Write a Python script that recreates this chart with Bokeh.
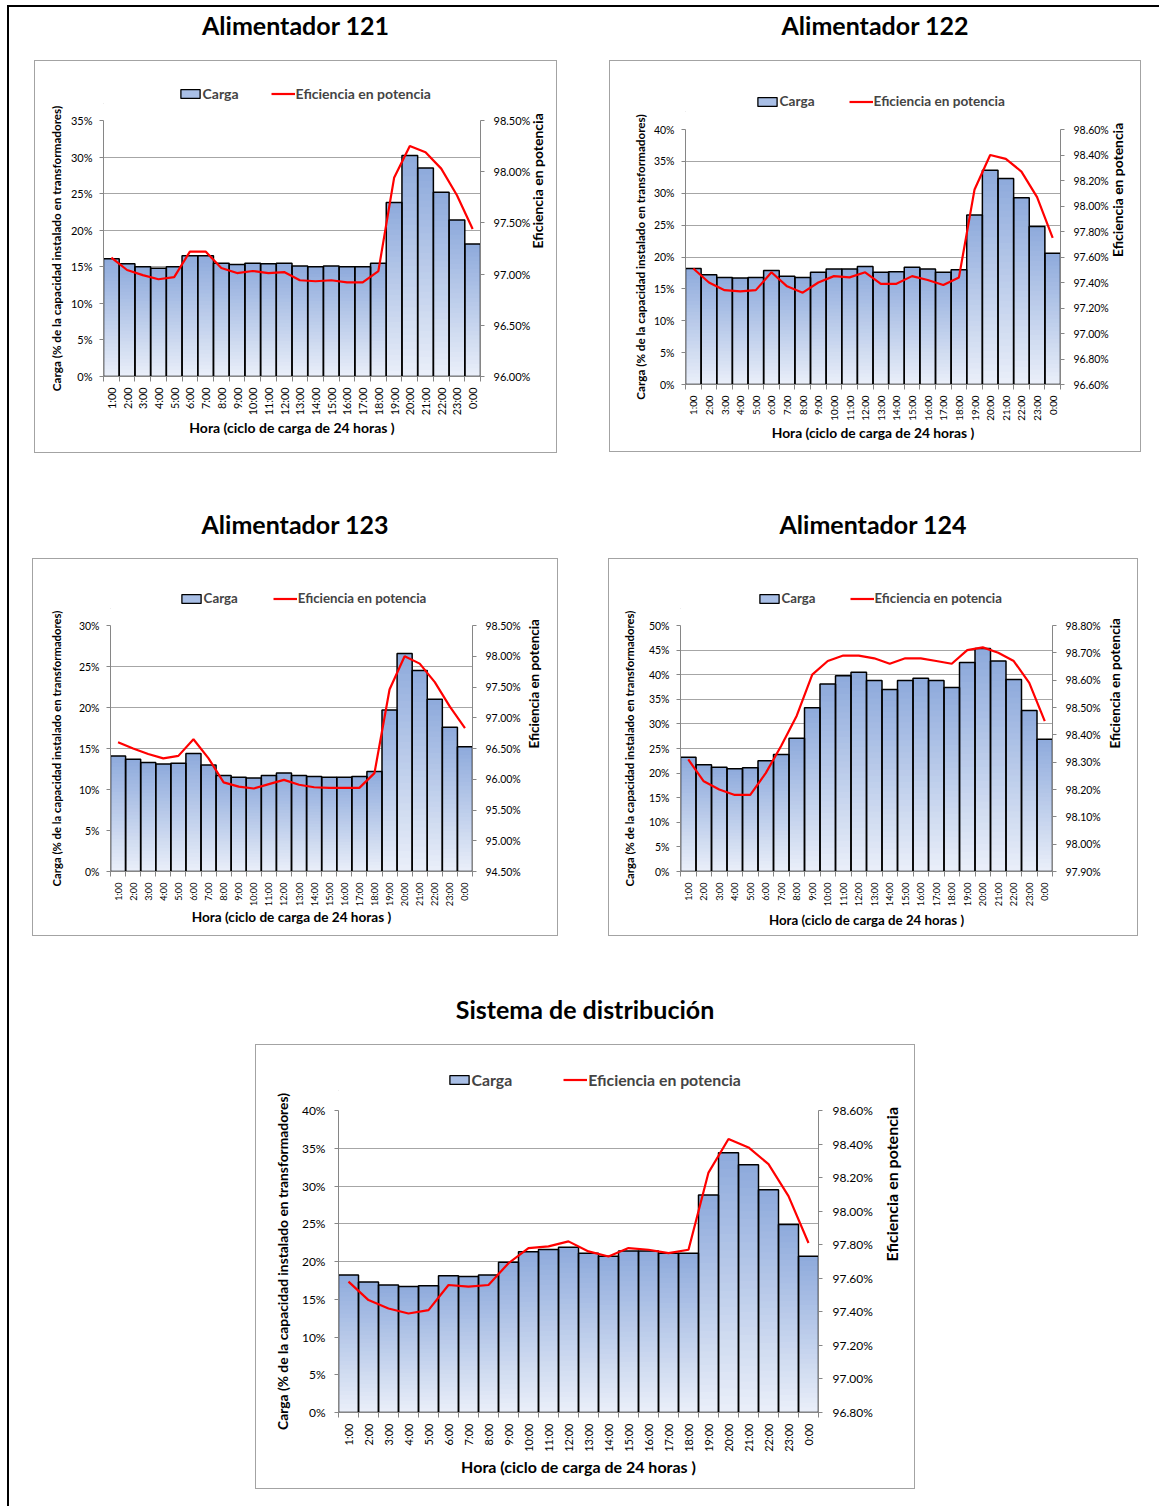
import math
from bokeh.plotting import figure
from bokeh.models import (Range1d, LinearAxis, FixedTicker, PrintfTickFormatter,
                          Legend, LegendItem, Div, Spacer)
from bokeh.layouts import row, column
from bokeh.embed import file_html
from bokeh.resources import INLINE

# ---------------------------------------------------------------- data
horas = ["1:00", "2:00", "3:00", "4:00", "5:00", "6:00", "7:00", "8:00",
         "9:00", "10:00", "11:00", "12:00", "13:00", "14:00", "15:00", "16:00",
         "17:00", "18:00", "19:00", "20:00", "21:00", "22:00", "23:00", "0:00"]

# load (% of installed transformer capacity) and power efficiency (%)
carga_121 = [16.1, 15.4, 15.0, 14.8, 15.0, 16.5, 16.5, 15.5, 15.3, 15.5, 15.4, 15.5,
             15.1, 15.0, 15.1, 15.0, 15.0, 15.5, 23.8, 30.2, 28.5, 25.2, 21.4, 18.1]
efic_121 = [97.16, 97.04, 96.99, 96.95, 96.97, 97.22, 97.22, 97.06, 97.01, 97.03, 97.01, 97.02,
            96.94, 96.93, 96.94, 96.92, 96.92, 97.03, 97.94, 98.25, 98.19, 98.03, 97.77, 97.44]

carga_122 = [18.2, 17.2, 16.8, 16.7, 16.8, 17.9, 17.0, 16.8, 17.6, 18.1, 18.1, 18.5,
             17.6, 17.7, 18.4, 18.1, 17.6, 18.0, 26.6, 33.6, 32.3, 29.3, 24.8, 20.6]
efic_122 = [97.51, 97.40, 97.34, 97.33, 97.34, 97.48, 97.37, 97.32, 97.40, 97.45, 97.44, 97.48,
            97.39, 97.39, 97.45, 97.42, 97.38, 97.44, 98.13, 98.40, 98.37, 98.27, 98.07, 97.75]

carga_123 = [14.1, 13.7, 13.3, 13.1, 13.2, 14.4, 13.0, 11.7, 11.5, 11.4, 11.7, 12.0,
             11.7, 11.6, 11.5, 11.5, 11.6, 12.2, 19.7, 26.6, 24.5, 21.0, 17.6, 15.2]
efic_123 = [96.60, 96.50, 96.41, 96.34, 96.38, 96.65, 96.34, 95.95, 95.88, 95.85, 95.92, 95.99,
            95.91, 95.87, 95.86, 95.86, 95.86, 96.10, 97.46, 98.00, 97.88, 97.58, 97.18, 96.83]

carga_124 = [23.2, 21.7, 21.2, 20.9, 21.1, 22.5, 23.8, 27.1, 33.3, 38.1, 39.8, 40.5,
             38.8, 37.0, 38.8, 39.3, 38.8, 37.4, 42.5, 45.3, 42.8, 39.0, 32.7, 26.9]
efic_124 = [98.31, 98.23, 98.20, 98.18, 98.18, 98.26, 98.36, 98.47, 98.62, 98.67, 98.69, 98.69,
            98.68, 98.66, 98.68, 98.68, 98.67, 98.66, 98.71, 98.72, 98.70, 98.67, 98.59, 98.45]

carga_sistema = [18.2, 17.3, 16.9, 16.7, 16.8, 18.1, 18.0, 18.2, 19.9, 21.3, 21.6, 21.9,
                 21.1, 20.7, 21.4, 21.4, 21.1, 21.1, 28.8, 34.4, 32.8, 29.5, 24.9, 20.7]
efic_sistema = [97.58, 97.47, 97.42, 97.39, 97.41, 97.56, 97.55, 97.56, 97.69, 97.78, 97.79, 97.82,
                97.76, 97.73, 97.78, 97.77, 97.75, 97.77, 98.23, 98.43, 98.38, 98.28, 98.09, 97.81]

# ---------------------------------------------------------------- style
FONT = "Lato"
AXIS_GREY = "#868686"
GRID_GREY = "#a6a6a6"
BAR_TOP = (142, 170, 220)
BAR_BOTTOM = (234, 239, 249)
SWATCH_BLUE = "#a9bfe6"
RED = "#ff0000"
N_SLICES = 32
GLYPH_W = 24
LEG_H = 18
LEG_PAD = 2  # space under the legend inside its strip

Y_LABEL = "Carga (% de la capacidad instalado en transformadores)"
Y2_LABEL = "Eficiencia en potencia"
X_LABEL = "Hora (ciclo de carga de 24 horas )"


def blend(c_from, c_to, t):
    r, g, b = (round(a + (b_ - a) * t) for a, b_ in zip(c_from, c_to))
    return "#%02x%02x%02x" % (r, g, b)


def legend_strip(box, frame, strip_h, fonts, leg):
    """Strip above the plot holding the legend (bar swatch + red line)."""
    bx, by, W, H = box
    fl, ft, fr, fb = frame
    s = figure(width=W, height=strip_h, x_range=Range1d(0, 1), y_range=Range1d(0, 1),
               min_border_left=fl - bx, min_border_right=bx + W - fr,
               min_border_top=0, min_border_bottom=0,
               output_backend="svg", toolbar_location=None, tools="")
    s.axis.visible = False
    s.grid.visible = False
    s.outline_line_color = None
    s.border_fill_color = None
    s.background_fill_color = None
    # legend proxies, kept outside the visible range
    swatch = s.vbar(x=[-5], top=[-5], width=1, fill_color=SWATCH_BLUE,
                    line_color="black", line_width=1.3)
    red = s.line(x=[-6, -5], y=[-5, -5], line_color=RED, line_width=2.2)

    x0 = leg["swatch"] - 0.1 * GLYPH_W
    carga_w = 2.54 * fonts["legend"]
    spacing = max(0, round(leg["line"] - x0 - (GLYPH_W + 1 + carga_w)))
    legend = Legend(items=[LegendItem(label="Carga", renderers=[swatch]),
                           LegendItem(label="Eficiencia en potencia", renderers=[red])],
                    location=(x0 - fl, LEG_PAD), orientation="horizontal",
                    padding=0, margin=0, spacing=spacing,
                    border_line_color=None, background_fill_alpha=0,
                    label_text_font=FONT, label_text_font_style="bold",
                    label_text_font_size=f"{fonts['legend']}px",
                    label_height=LEG_H, glyph_height=11, glyph_width=GLYPH_W,
                    label_standoff=1)
    s.add_layout(legend)
    return s


def make_chart(carga, efic, y_max, eff, box, frame, fonts, leg, standoffs):
    bx, by, W, H = box
    fl, ft, fr, fb = frame
    strip_h = round(leg["cy"] + LEG_H / 2 + LEG_PAD - by)
    top_border = (ft - by) - strip_h
    xs = list(range(1, len(carga) + 1))

    p = figure(width=W, height=H - strip_h,
               x_range=Range1d(0.5, len(carga) + 0.5), y_range=Range1d(0, y_max),
               min_border_left=fl - bx, min_border_right=bx + W - fr,
               min_border_top=top_border, min_border_bottom=by + H - fb,
               output_backend="svg", toolbar_location=None, tools="")
    p.border_fill_color = None
    p.background_fill_color = "white"
    p.outline_line_color = None

    # bars with a vertical gradient: overlapping slices, tallest first
    lefts, rights, bottoms, tops, colors = [], [], [], [], []
    for j in range(N_SLICES):
        frac = (N_SLICES - j) / N_SLICES
        col = blend(BAR_BOTTOM, BAR_TOP, (N_SLICES - j - 0.5) / N_SLICES)
        for x, v in zip(xs, carga):
            lefts.append(x - 0.5)
            rights.append(x + 0.5)
            bottoms.append(0)
            tops.append(v * frac)
            colors.append(col)
    p.quad(left=lefts, right=rights, bottom=bottoms, top=tops,
           fill_color=colors, line_color=None)
    p.vbar(x=xs, top=carga, width=1.0, fill_alpha=0,
           line_color="black", line_width=1.5)

    # efficiency on the secondary axis
    lo, hi, step = eff
    p.extra_y_ranges = {"ef": Range1d(lo, hi)}
    p.line(xs, efic, y_range_name="ef", line_color=RED, line_width=2.2)

    n_eff = int(round((hi - lo) / step))
    ax2 = LinearAxis(y_range_name="ef",
                     ticker=FixedTicker(ticks=[round(lo + k * step, 2) for k in range(n_eff + 1)],
                                        minor_ticks=[]),
                     formatter=PrintfTickFormatter(format="%.2f%%"))
    p.add_layout(ax2, "right")

    ya = p.yaxis[0]
    ya.ticker = FixedTicker(ticks=list(range(0, y_max + 1, 5)), minor_ticks=[])
    ya.formatter = PrintfTickFormatter(format="%d%%")

    xa = p.xaxis[0]
    xa.ticker = FixedTicker(ticks=xs, minor_ticks=[x - 0.5 for x in xs] + [xs[-1] + 0.5])
    xa.major_label_overrides = {x: h for x, h in zip(xs, horas)}
    xa.major_label_orientation = math.pi / 2
    xa.major_tick_out = 0
    xa.major_tick_in = 0
    xa.minor_tick_out = 5
    xa.minor_tick_in = 0
    xa.major_label_standoff = 6
    xa.major_label_text_font_size = f"{fonts['xtick']}px"

    for ax, standoff in ((ya, fonts.get("lstand", 7)), (ax2, fonts.get("rstand", 9))):
        ax.major_tick_out = 4
        ax.major_tick_in = 0
        ax.minor_tick_out = 0
        ax.minor_tick_in = 0
        ax.major_label_standoff = standoff
        ax.major_label_text_font_size = f"{fonts['tick']}px"

    # axis titles
    ya.axis_label = Y_LABEL
    ax2.axis_label = Y2_LABEL
    xa.axis_label = X_LABEL
    for ax, key, so in ((ya, "ltitle", standoffs[0]), (ax2, "rtitle", standoffs[1]),
                        (xa, "xtitle", standoffs[2])):
        ax.axis_label_text_font = FONT
        ax.axis_label_text_font_style = "bold"
        ax.axis_label_text_font_size = f"{fonts[key]}px"
        ax.axis_label_text_color = "black"
        ax.axis_label_standoff = so
    if "axis_label_orientation" in ax2.properties():
        ax2.axis_label_orientation = math.pi / 2

    for ax in (xa, ya, ax2):
        ax.axis_line_color = AXIS_GREY
        ax.major_tick_line_color = AXIS_GREY
        ax.minor_tick_line_color = AXIS_GREY
        ax.major_label_text_font = FONT
        ax.major_label_text_color = "black"

    p.xgrid.visible = False
    p.ygrid.grid_line_color = GRID_GREY
    p.ygrid.grid_line_width = 1

    strip = legend_strip(box, frame, strip_h, fonts, leg)
    return column(strip, p, width=W, height=H,
                  styles={"box-shadow": "inset 0 0 0 1px #a3a3a3"})


f1 = make_chart(carga_121, efic_121, 35, (96.0, 98.5, 0.5),
                box=(34, 60, 523, 393), frame=(103, 120, 481, 376),
                fonts=dict(tick=11, xtick=10.8, legend=14, ltitle=11.7, rtitle=14, xtitle=14),
                leg=dict(swatch=180, line=270, cy=92.7), standoffs=(5, 4, 1))
f2 = make_chart(carga_122, efic_122, 40, (96.6, 98.6, 0.2),
                box=(609, 60, 532, 392), frame=(685, 129, 1060, 384),
                fonts=dict(tick=10.5, xtick=9.8, legend=13.6, ltitle=11.7, rtitle=13.9, xtitle=13.8),
                leg=dict(swatch=757, line=848, cy=101), standoffs=(4, 6, 0))
f3 = make_chart(carga_123, efic_123, 30, (94.5, 98.5, 0.5),
                box=(32, 558, 526, 378), frame=(110, 625, 472, 871),
                fonts=dict(tick=10.5, xtick=9.2, legend=13.3, ltitle=11.3, rtitle=13.4, xtitle=13.6),
                leg=dict(swatch=181, line=272, cy=598), standoffs=(13, 10, 0))
f4 = make_chart(carga_124, efic_124, 50, (97.9, 98.8, 0.1),
                box=(608, 558, 530, 378), frame=(680, 625, 1052, 871),
                fonts=dict(tick=10.5, xtick=9.2, legend=13.2, ltitle=11.3, rtitle=13.5, xtitle=13.3),
                leg=dict(swatch=759, line=849, cy=598), standoffs=(10, 11, 3))
f5 = make_chart(carga_sistema, efic_sistema, 40, (96.8, 98.6, 0.2),
                box=(255, 1044, 660, 445), frame=(338, 1110, 818, 1412),
                fonts=dict(tick=12, xtick=11, legend=15.8, ltitle=13.8, rtitle=16, xtitle=16,
                           lstand=9, rstand=10),
                leg=dict(swatch=449, line=563, cy=1080), standoffs=(8, 16, 2))


def heading(text, width):
    return Div(text=text, width=width, height=36, margin=0,
               styles={"font-family": FONT, "font-weight": "bold", "font-size": "25px",
                       "text-align": "center", "line-height": "36px", "color": "black"})


content = column(
    row(Spacer(width=25), heading("Alimentador 121", 523), Spacer(width=52), heading("Alimentador 122", 532)),
    Spacer(height=17),
    row(Spacer(width=25), f1, Spacer(width=52), f2),
    Spacer(height=53),
    row(Spacer(width=23), heading("Alimentador 123", 526), Spacer(width=50), heading("Alimentador 124", 530)),
    Spacer(height=16),
    row(Spacer(width=23), f3, Spacer(width=50), f4),
    Spacer(height=55),
    row(Spacer(width=246), heading("Sistema de distribución", 660)),
    Spacer(height=17),
    row(Spacer(width=246), f5),
)

left_rule = Div(text="", width=2, height=1501, margin=0, styles={"background-color": "black"})
top_rule = Div(text="", width=1150, height=2, margin=0, styles={"background-color": "black"})

page = column(Spacer(height=5),
              row(Spacer(width=7), left_rule, column(top_rule, content)))

with open("out.html", "w") as fh:
    fh.write(file_html(page, INLINE, title="Carga y eficiencia"))
